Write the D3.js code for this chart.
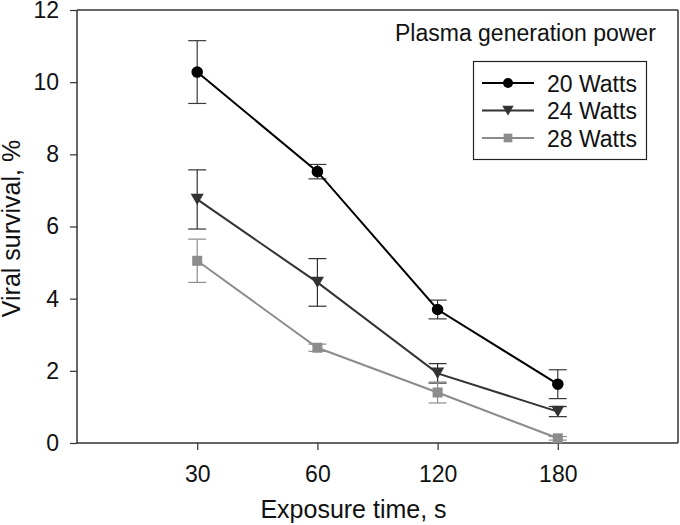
<!DOCTYPE html>
<html>
<head>
<meta charset="utf-8">
<script src="https://cdn.jsdelivr.net/npm/d3@7"></script>
<style>
  body { margin: 0; background: #fff; }
  svg { display: block; font-family: "Liberation Sans", Arial, sans-serif; }
</style>
</head>
<body>
<svg id="chart" width="680" height="525"></svg>
<script>
const categories = ["30", "60", "120", "180"];
const seriesNames = ["20 Watts", "24 Watts", "28 Watts"];
const watts20 = [10.28, 7.52, 3.70, 1.63];
const watts20Err = [0.87, 0.20, 0.26, 0.40];
const watts24 = [6.75, 4.45, 1.93, 0.87];
const watts24Err = [0.82, 0.66, 0.27, 0.14];
const watts28 = [5.05, 2.64, 1.40, 0.13];
const watts28Err = [0.60, 0.10, 0.29, 0.05];
const yTicks = [0, 2, 4, 6, 8, 10, 12];
const legendTitle = "Plasma generation power";
const xTitle = "Exposure time, s";
const yTitle = "Viral survival, %";

const svg = d3.select("#chart");
const margin = { left: 77, top: 10, right: 2, bottom: 82 };
const W = 680, H = 525;
const w = W - margin.left - margin.right;
const h = H - margin.top - margin.bottom;
const g = svg.append("g").attr("transform", `translate(${margin.left},${margin.top})`);

const x = d3.scalePoint().domain(categories).range([0, w]).padding(1);
const y = d3.scaleLinear().domain([0, 12]).range([h, 0]);

const series = [
  { name: seriesNames[0], values: watts20, err: watts20Err, color: "#000000", errColor: "#3a3a3a", shape: d3.symbolCircle, size: 105 },
  { name: seriesNames[1], values: watts24, err: watts24Err, color: "#333333", errColor: "#333333", shape: d3.symbolTriangle, size: 75, rotate: 180 },
  { name: seriesNames[2], values: watts28, err: watts28Err, color: "#8c8c8c", errColor: "#8c8c8c", shape: d3.symbolSquare, size: 100 }
];

// frame (top & right)
g.append("line").attr("x1", 0).attr("x2", w).attr("y1", 0).attr("y2", 0).attr("stroke", "#333").attr("stroke-width", 1.5);
g.append("line").attr("x1", w).attr("x2", w).attr("y1", 0).attr("y2", h).attr("stroke", "#333").attr("stroke-width", 1.5);

// axes
const yAxis = g.append("g").call(d3.axisLeft(y).tickValues(yTicks).tickFormat(d3.format("d")).tickSize(7).tickPadding(11));
const xAxis = g.append("g").attr("transform", `translate(0,${h})`).call(d3.axisBottom(x).tickSize(7).tickPadding(16));
[xAxis, yAxis].forEach(a => {
  a.select(".domain").attr("stroke", "#333").attr("stroke-width", 1.5);
  a.selectAll(".tick line").attr("stroke", "#333").attr("stroke-width", 1.2);
  a.selectAll(".tick text").attr("font-size", 23).attr("fill", "#111").attr("font-family", "Liberation Sans, Arial, sans-serif");
});
yAxis.select(".domain").attr("d", `M0,${h}V0`);
xAxis.select(".domain").attr("d", `M0,0H${w}`);

// axis titles
svg.append("text").attr("x", margin.left + w / 2 - 24).attr("y", 518)
  .attr("text-anchor", "middle").attr("font-size", 25).attr("fill", "#111").text(xTitle);
svg.append("text").attr("transform", `translate(20,${margin.top + h / 2 + 2}) rotate(-90)`)
  .attr("text-anchor", "middle").attr("font-size", 25).attr("fill", "#111").text(yTitle);

// error bars, lines, markers
const line = d3.line().x((d, i) => x(categories[i])).y(d => y(d));
series.forEach(s => {
  const eg = g.append("g");
  s.values.forEach((v, i) => {
    const cx = x(categories[i]);
    const t = y(v + s.err[i]), b = y(v - s.err[i]);
    eg.append("line").attr("x1", cx).attr("x2", cx).attr("y1", t).attr("y2", b).attr("stroke", s.errColor).attr("stroke-width", 1.2);
    eg.append("line").attr("x1", cx - 9).attr("x2", cx + 9).attr("y1", t).attr("y2", t).attr("stroke", s.errColor).attr("stroke-width", 1.2);
    eg.append("line").attr("x1", cx - 9).attr("x2", cx + 9).attr("y1", b).attr("y2", b).attr("stroke", s.errColor).attr("stroke-width", 1.2);
  });
});
series.forEach(s => {
  g.append("path").datum(s.values).attr("d", line).attr("fill", "none").attr("stroke", s.color).attr("stroke-width", 2);
  const sym = d3.symbol().type(s.shape).size(s.size);
  g.selectAll(null).data(s.values).enter().append("path")
    .attr("d", sym)
    .attr("transform", (d, i) => `translate(${x(categories[i])},${y(d) + (s.rotate ? -2 : 0)})${s.rotate ? " rotate(180)" : ""}`)
    .attr("fill", s.color);
});

// legend
svg.append("text").attr("x", 395).attr("y", 41).attr("font-size", 23).attr("fill", "#111").text(legendTitle);
svg.append("rect").attr("x", 473.5).attr("y", 61.5).attr("width", 173).attr("height", 98)
  .attr("fill", "#fff").attr("stroke", "#222").attr("stroke-width", 1.2);
series.forEach((s, i) => {
  const ly = 83 + i * 27.5;
  svg.append("line").attr("x1", 482).attr("x2", 534).attr("y1", ly).attr("y2", ly).attr("stroke", s.color).attr("stroke-width", 2);
  svg.append("path").attr("d", d3.symbol().type(s.shape).size(s.size * 0.75))
    .attr("transform", `translate(508,${ly + (s.rotate ? -1.5 : 0)})${s.rotate ? " rotate(180)" : ""}`)
    .attr("fill", s.color);
  svg.append("text").attr("x", 547).attr("y", ly + 8.5).attr("font-size", 23).attr("fill", "#111").text(s.name);
});
</script>
</body>
</html>
